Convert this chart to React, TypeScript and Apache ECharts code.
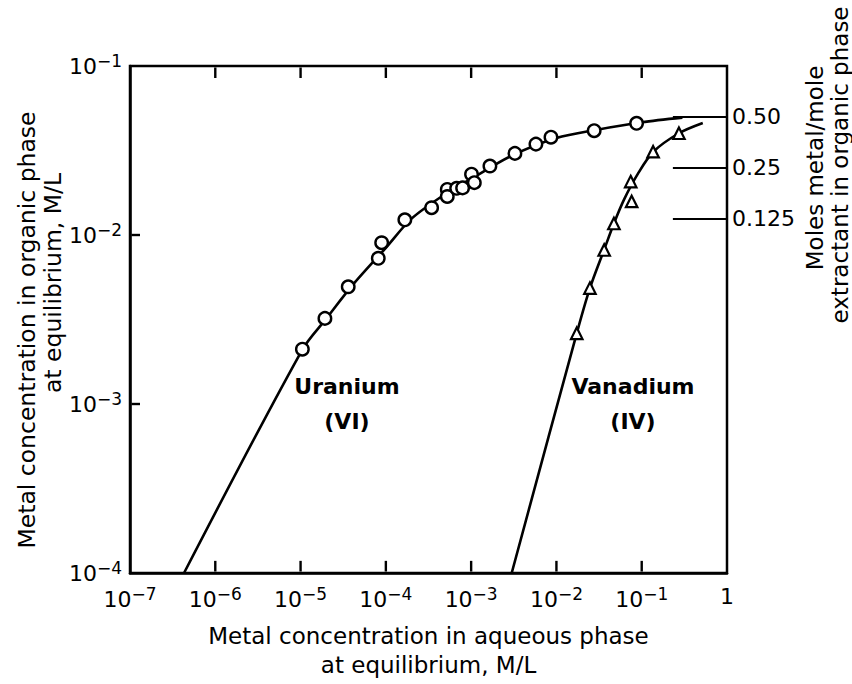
import React, { useEffect, useRef } from 'react';
import * as echarts from 'echarts';

// Measured points (aqueous M/L, organic M/L)
const uraniumX = [1.05e-5, 1.93e-5, 3.62e-5, 8.15e-5, 8.93e-5, 1.67e-4, 3.44e-4, 5.25e-4, 5.25e-4, 6.76e-4, 7.94e-4, 1.01e-3, 1.09e-3, 1.66e-3, 3.26e-3, 5.75e-3, 8.63e-3, 2.77e-2, 8.71e-2];
const uraniumY = [2.11e-3, 3.21e-3, 4.94e-3, 7.28e-3, 9.0e-3, 1.23e-2, 1.45e-2, 1.86e-2, 1.69e-2, 1.89e-2, 1.9e-2, 2.29e-2, 2.04e-2, 2.56e-2, 3.04e-2, 3.45e-2, 3.79e-2, 4.14e-2, 4.58e-2];
const vanadiumX = [1.73e-2, 2.47e-2, 3.63e-2, 4.72e-2, 7.62e-2, 7.43e-2, 0.136, 0.273];
const vanadiumY = [2.62e-3, 4.85e-3, 8.15e-3, 1.17e-2, 1.58e-2, 2.07e-2, 3.11e-2, 4.0e-2];

// Fitted curves
const curveUX = [4.3e-7, 1.05e-5, 2e-5, 4e-5, 1e-4, 2e-4, 5e-4, 1e-3, 3e-3, 1e-2, 3e-2, 1e-1, 3e-1];
const curveUY = [1e-4, 2.1e-3, 3.2e-3, 5.0e-3, 8.4e-3, 1.25e-2, 1.75e-2, 2.15e-2, 2.95e-2, 3.75e-2, 4.2e-2, 4.65e-2, 4.95e-2];
const curveVX = [2.99e-3, 1.73e-2, 2.47e-2, 3.63e-2, 4.72e-2, 6.2e-2, 9.0e-2, 0.136, 0.273, 0.52];
const curveVY = [1e-4, 2.62e-3, 4.85e-3, 8.2e-3, 1.17e-2, 1.62e-2, 2.3e-2, 3.1e-2, 4.0e-2, 4.6e-2];

// Secondary scale: moles metal / mole extractant
const refY = [0.05, 0.025, 0.0125];
const refLabels = ['0.50', '0.25', '0.125'];
const refStartX = 0.232;
const refEndX = 1;

// Decade ticks inside the frame (start just inside the frame line, end ~12 px in)
const xTicks = [1e-6, 1e-5, 1e-4, 1e-3, 1e-2, 1e-1];
const yTicks = [1e-3, 1e-2];
const bottomTick = [1.02e-4, 1.18e-4];
const topTick = [0.098, 0.0849];
const leftTick = [1.04e-7, 1.31e-7];

// Curve labels
const curveLabels = ['Uranium\n(VI)', 'Vanadium\n(IV)'];
const curveLabelX = [3.5e-5, 7.9e-2];
const curveLabelY = [1e-3, 1e-3];

const xMin = 1e-7, xMax = 1, yMin = 1e-4, yMax = 1e-1;

const FONT = 'DejaVu Sans';
const INK = '#000';

const powLabel = (v: number) => {
  const e = Math.round(Math.log10(v));
  if (e === 0) return '{b|1}';
  return `{b|10}{s|\u2212${Math.abs(e)}}`;
};

const zip = (a: number[], b: number[]) => a.map((v, i) => [v, b[i]]);

export default function App() {
  const ref = useRef<HTMLDivElement>(null);
  useEffect(() => {
    const chart = echarts.init(ref.current!, null, { renderer: 'svg' });
    const tickData = [
      ...xTicks.map((x) => [x, bottomTick[0], x, bottomTick[1]]),
      ...xTicks.map((x) => [x, topTick[0], x, topTick[1]]),
      ...yTicks.map((y) => [leftTick[0], y, leftTick[1], y]),
    ];
    const option: any = {
      animation: false,
      backgroundColor: '#fff',
      grid: {
        left: 130, right: 125, top: 66, bottom: 111,
        show: true, borderColor: INK, borderWidth: 2.5, backgroundColor: 'transparent',
      },
      xAxis: {
        type: 'log', min: xMin, max: xMax, logBase: 10,
        axisLine: { show: true, lineStyle: { color: INK, width: 2.5 } },
        axisTick: { show: false },
        axisLabel: {
          formatter: powLabel, margin: 12,
          rich: {
            b: { fontSize: 22, fontFamily: FONT, color: INK },
            s: { fontSize: 17, fontFamily: FONT, color: INK, padding: [0, 0, 11, 0] },
          },
        },
        splitLine: { show: false },
        name: 'Metal concentration in aqueous phase\nat equilibrium, M/L',
        nameLocation: 'middle',
        nameGap: 48,
        nameTextStyle: { fontSize: 23, lineHeight: 29, fontFamily: FONT, color: INK },
      },
      yAxis: {
        type: 'log', min: yMin, max: yMax, logBase: 10,
        axisLine: { show: true, lineStyle: { color: INK, width: 2.5 } },
        axisTick: { show: false },
        axisLabel: {
          formatter: powLabel, margin: 8,
          rich: {
            b: { fontSize: 22, fontFamily: FONT, color: INK },
            s: { fontSize: 17, fontFamily: FONT, color: INK, padding: [0, 0, 11, 0] },
          },
        },
        splitLine: { show: false },
      },
      series: [
        {
          type: 'custom', name: 'ticks', data: tickData,
          encode: { x: [0, 2], y: [1, 3] },
          renderItem: (params: any, api: any) => {
            const p1 = api.coord([api.value(0), api.value(1)]);
            const p2 = api.coord([api.value(2), api.value(3)]);
            return {
              type: 'line',
              shape: { x1: p1[0], y1: p1[1], x2: p2[0], y2: p2[1] },
              style: { stroke: INK, lineWidth: 2.4 },
            };
          },
        },
        {
          type: 'line', name: 'Uranium curve', data: zip(curveUX, curveUY),
          showSymbol: false, smooth: 0.3, lineStyle: { color: INK, width: 2.6 }, z: 2,
        },
        {
          type: 'line', name: 'Vanadium curve', data: zip(curveVX, curveVY),
          showSymbol: false, smooth: 0.3, lineStyle: { color: INK, width: 2.6 }, z: 2,
        },
        {
          type: 'scatter', name: 'Uranium (VI)', data: zip(uraniumX, uraniumY),
          symbol: 'circle', symbolSize: 12.5,
          itemStyle: { color: '#fff', borderColor: INK, borderWidth: 2.4, opacity: 1 }, z: 3,
        },
        {
          type: 'scatter', name: 'Vanadium (IV)', data: zip(vanadiumX, vanadiumY),
          symbol: 'triangle', symbolSize: 11.5,
          itemStyle: { color: '#fff', borderColor: INK, borderWidth: 2.2, opacity: 1 }, z: 3,
          markLine: {
            silent: true,
            symbol: ['none', 'none'],
            lineStyle: { color: INK, width: 2.2, type: 'solid', opacity: 1 },
            label: {
              show: true, position: 'end', distance: 5,
              fontSize: 22, fontFamily: FONT, color: INK,
              formatter: (p: any) => p.name,
            },
            data: refY.map((y, i) => [
              { coord: [refStartX, y], name: refLabels[i] },
              { coord: [refEndX, y] },
            ]),
          },
        },
        {
          type: 'scatter', name: 'labels',
          data: curveLabels.map((t, i) => ({ value: [curveLabelX[i], curveLabelY[i]], name: t })),
          symbol: 'circle', symbolSize: 1,
          itemStyle: { color: 'rgba(0,0,0,0)', opacity: 1 },
          label: {
            show: true, position: 'inside', formatter: '{b}',
            fontSize: 22, fontWeight: 'bold', fontFamily: FONT, color: INK,
            lineHeight: 35, align: 'center', verticalAlign: 'middle',
          },
          z: 4,
        },
      ],
      graphic: [
        {
          type: 'text', x: 27, y: 330, rotation: Math.PI / 2,
          style: { text: 'Metal concentration in organic phase', fontSize: 23.5, fontFamily: FONT, fill: INK, align: 'center', verticalAlign: 'middle' },
        },
        {
          type: 'text', x: 53, y: 283, rotation: Math.PI / 2,
          style: { text: 'at equilibrium, M/L', fontSize: 23.5, fontFamily: FONT, fill: INK, align: 'center', verticalAlign: 'middle' },
        },
        {
          type: 'text', x: 815, y: 168, rotation: Math.PI / 2,
          style: { text: 'Moles metal/mole', fontSize: 23, fontFamily: FONT, fill: INK, align: 'center', verticalAlign: 'middle' },
        },
        {
          type: 'text', x: 840, y: 165, rotation: Math.PI / 2,
          style: { text: 'extractant in organic phase', fontSize: 23, fontFamily: FONT, fill: INK, align: 'center', verticalAlign: 'middle' },
        },
      ],
    };
    chart.setOption(option);
    return () => chart.dispose();
  }, []);
  return <div ref={ref} style={{ position: 'absolute', left: 0, top: 0, width: 852, height: 684 }} />;
}
